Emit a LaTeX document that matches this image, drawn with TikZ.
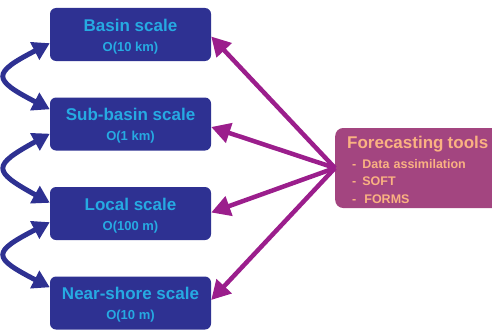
\documentclass[tikz,border=0pt]{standalone}
\usepackage{fontspec}
\setmainfont{Liberation Sans}
\usepackage{xcolor}
\usepackage{tikz}
\usetikzlibrary{positioning,arrows.meta}
\definecolor{scaleblue}{RGB}{46,49,146}
\definecolor{labelcyan}{RGB}{38,170,226}
\definecolor{linkpurple}{RGB}{155,30,140}
\definecolor{toolmauve}{RGB}{163,69,128}
\definecolor{toolpeach}{RGB}{250,178,130}
\newcommand{\scalelabel}[2]{{\fontsize{17}{20}\selectfont\rule{0pt}{16pt}#1}\\#2}

\begin{document}
\begin{tikzpicture}[
  x=1pt, y=-1pt,
  scalebox/.style={fill=scaleblue, rounded corners=6pt, minimum width=161pt, minimum height=53pt, align=center, text=labelcyan, font=\bfseries\fontsize{13}{20}\selectfont, inner sep=0pt},
  toolbox/.style={fill=toolmauve, rounded corners=8pt, minimum height=80pt, text width=146pt, inner xsep=12pt, inner ysep=0pt, align=left, text=toolpeach, font=\bfseries\fontsize{12.5}{17.5}\selectfont},
  zoom/.style={{Triangle[length=17pt,width=19pt]}-{Triangle[length=17pt,width=19pt]}, line width=5pt, scaleblue},
  feed/.style={-{Triangle[length=19pt,width=20pt]}, line width=4.5pt, linkpurple}
]
  \useasboundingbox (0,0) rectangle (492,329);

  \node[scalebox] (basin) at (130.5,34.5) {\scalelabel{Basin scale}{O(10 km)}};
  \node[scalebox] (subbasin) at (130.5,124) {\scalelabel{Sub-basin scale}{O(1 km)}};
  \node[scalebox] (local) at (130.5,213.5) {\scalelabel{Local scale}{O(100 m)}};
  \node[scalebox] (nearshore) at (130.5,303) {\scalelabel{Near-shore scale}{O(10 m)}};

  \node[toolbox, anchor=west] (tools) at (335,168) {{\fontsize{17}{20}\selectfont\rule{0pt}{16pt}Forecasting tools}\\[2pt]
    \hspace*{5pt}-\hspace{6pt}Data assimilation\\
    \hspace*{5pt}-\hspace{6pt}SOFT\\
    \hspace*{5pt}-\hspace{8pt}FORMS};

  % scale links
  \draw[zoom] ([yshift=18pt]basin.south west) .. controls +(-58,30) and +(-58,-30) .. ([yshift=-12pt]subbasin.north west);
  \draw[zoom] ([yshift=17pt]subbasin.south west) .. controls +(-58,32) and +(-58,-32) .. ([yshift=-16pt]local.north west);
  \draw[zoom] ([yshift=18pt]local.south west) .. controls +(-58,30) and +(-58,-30) .. ([yshift=-11pt]nearshore.north west);

  % tools to scales
  \draw[feed] (tools.west) -- ([yshift=-2pt]basin.east);
  \draw[feed] (tools.west) -- ([yshift=-3pt]subbasin.east);
  \draw[feed] (tools.west) -- ([yshift=1pt]local.east);
  \draw[feed] (tools.west) -- ([yshift=3pt]nearshore.east);
\end{tikzpicture}
\end{document}
